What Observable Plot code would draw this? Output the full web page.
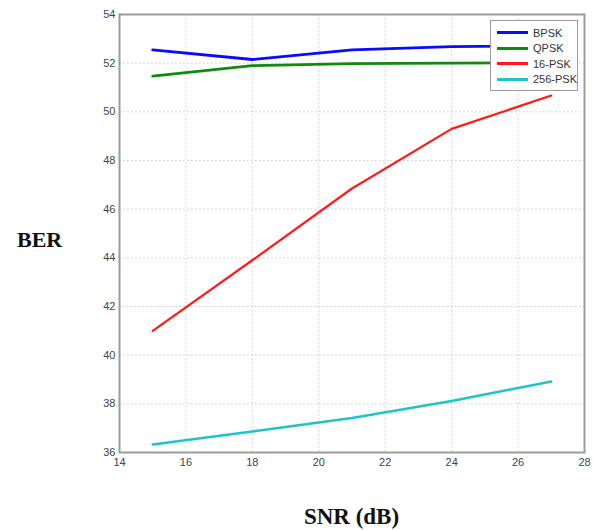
<!DOCTYPE html>
<html>
<head>
<meta charset="utf-8">
<script src="https://cdn.jsdelivr.net/npm/d3@7"></script>
<script src="https://cdn.jsdelivr.net/npm/@observablehq/plot@0.6"></script>
<style>
  html, body { margin: 0; padding: 0; background: #fff; }
  #wrap { position: relative; width: 593px; height: 530px; }
  .lbl { position: absolute; font-family: "Liberation Serif", "Times New Roman", serif; font-weight: bold; line-height: 1; color: #111; white-space: nowrap; }
  #legend { position: absolute; left: 490px; top: 20px; width: 88px; height: 71px; border: 1px solid #9a9a9a; background: #fff; box-sizing: border-box; font-family: "Liberation Sans", Arial, sans-serif; font-size: 11px; color: #333; padding-top: 4px; }
  .row { display: flex; align-items: center; height: 15.5px; }
  .sw { width: 31px; height: 3px; margin-left: 6px; margin-right: 5px; }
</style>
</head>
<body>
<div id="wrap"></div>
<script>
const snr = [15, 18, 21, 24, 27];
const bpsk = [52.55, 52.15, 52.55, 52.68, 52.72];
const qpsk = [51.47, 51.9, 51.98, 52.0, 52.02];
const psk16 = [41.0, 43.9, 46.85, 49.3, 50.67];
const psk256 = [36.33, 36.86, 37.42, 38.12, 38.92];
const seriesNames = ["BPSK", "QPSK", "16-PSK", "256-PSK"];
const seriesColors = ["#0a0aff", "#118811", "#ff1a1a", "#1fc4c4"];
const seriesWidths = [2.8, 2.8, 2.2, 2.5];
const xTicks = [14, 16, 18, 20, 22, 24, 26, 28];
const yTicks = [36, 38, 40, 42, 44, 46, 48, 50, 52, 54];
const xLabel = "SNR (dB)";
const yLabel = "BER";

const allValues = [bpsk, qpsk, psk16, psk256];

const chart = Plot.plot({
  width: 593,
  height: 530,
  marginLeft: 119,
  marginRight: 9,
  marginTop: 14,
  marginBottom: 78,
  style: {fontFamily: "Liberation Sans, Arial, sans-serif", fontSize: "11px", color: "#444", background: "#fff"},
  x: {domain: [14, 28], ticks: xTicks, label: null},
  y: {domain: [36, 54], ticks: yTicks, label: null},
  marks: [
    Plot.gridX(xTicks, {stroke: "#bbb", strokeOpacity: 0.8, strokeDasharray: "1.5,2.5"}),
    Plot.gridY(yTicks, {stroke: "#bbb", strokeOpacity: 0.8, strokeDasharray: "1.5,2.5"}),
    Plot.axisX({ticks: xTicks, tickSize: 0, tickPadding: 6, label: null}),
    Plot.axisY({ticks: yTicks, tickSize: 0, tickPadding: 4, label: null}),
    ...seriesNames.map((name, i) =>
      Plot.line(snr.map((s, j) => ({snr: s, ber: allValues[i][j]})), {
        x: "snr", y: "ber", stroke: seriesColors[i], strokeWidth: seriesWidths[i]
      })
    ),
    Plot.frame({stroke: "#9c9c9c", strokeWidth: 2})
  ]
});

const wrap = document.getElementById("wrap");
wrap.appendChild(chart);

const ylab = document.createElement("div");
ylab.className = "lbl";
ylab.style.fontSize = "22px";
ylab.style.left = "17px";
ylab.style.top = "229px";
ylab.textContent = yLabel;
wrap.appendChild(ylab);

const xlab = document.createElement("div");
xlab.className = "lbl";
xlab.style.fontSize = "23px";
xlab.style.left = "0px";
xlab.style.width = "703px";
xlab.style.textAlign = "center";
xlab.style.top = "505px";
xlab.textContent = xLabel;
wrap.appendChild(xlab);

const legend = document.createElement("div");
legend.id = "legend";
seriesNames.forEach((name, i) => {
  const row = document.createElement("div");
  row.className = "row";
  const sw = document.createElement("div");
  sw.className = "sw";
  sw.style.background = seriesColors[i];
  const t = document.createElement("span");
  t.textContent = name;
  row.appendChild(sw);
  row.appendChild(t);
  legend.appendChild(row);
});
wrap.appendChild(legend);
</script>
</body>
</html>
